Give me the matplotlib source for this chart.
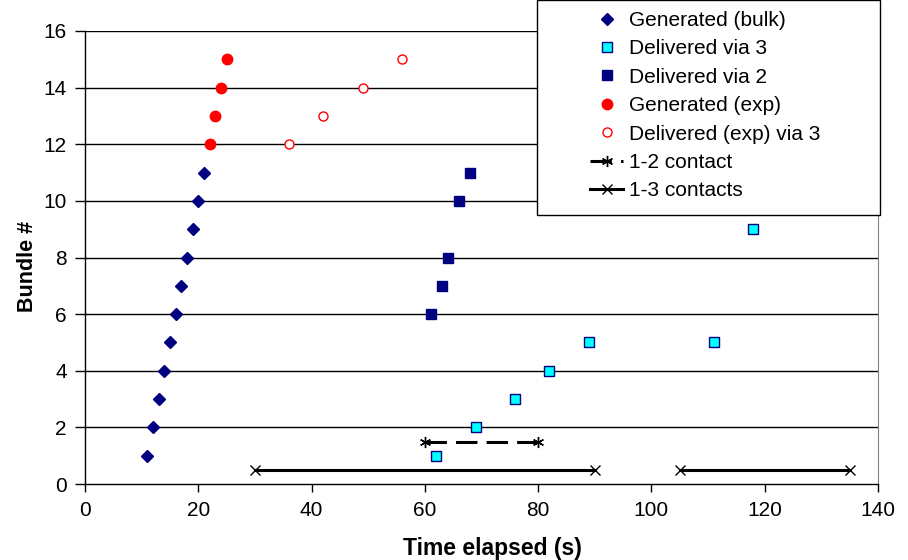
import matplotlib
matplotlib.use("Agg")
import matplotlib.pyplot as plt
from matplotlib.patches import Rectangle

plt.rcParams["font.family"] = ["Liberation Sans", "DejaVu Sans"]

# generated bundles (bulk)
gen_bulk_t = [11, 12, 13, 14, 15, 16, 17, 18, 19, 20, 21]
gen_bulk_b = [1, 2, 3, 4, 5, 6, 7, 8, 9, 10, 11]

# delivered via node 3
via3_t = [62, 69, 76, 82, 89, 111, 118]
via3_b = [1, 2, 3, 4, 5, 5, 9]

# delivered via node 2
via2_t = [61, 63, 64, 66, 68]
via2_b = [6, 7, 8, 10, 11]

# expedited bundles
gen_exp_t = [22, 23, 24, 25]
gen_exp_b = [12, 13, 14, 15]
del_exp_t = [36, 42, 49, 56]
del_exp_b = [12, 13, 14, 15]

# contacts
c12_t = [60, 80]
c12_y = [1.5, 1.5]
c13a_t = [30, 90]
c13b_t = [105, 135]
c13_y = [0.5, 0.5]

W, H = 908, 560
fig = plt.figure(figsize=(W / 100, H / 100), dpi=100)
ax = fig.add_axes([85 / W, 1 - 484 / H, 793 / W, 453 / H])

for y in range(2, 17, 2):
    ax.axhline(y, color="black", lw=1, zorder=1)

ax.plot(gen_bulk_t, gen_bulk_b, "D", color="#000080", ms=6.5, ls="none",
        label="Generated (bulk)", zorder=3)
ax.plot(via3_t, via3_b, "s", mfc="#00FFFF", mec="#000080", mew=1.0, ms=6.5,
        ls="none", label="Delivered via 3", zorder=3)
ax.plot(via2_t, via2_b, "s", color="#000080", ms=6.5, ls="none",
        label="Delivered via 2", zorder=3)
ax.plot(gen_exp_t, gen_exp_b, "o", color="#FF0000", ms=7.5, ls="none",
        label="Generated (exp)", zorder=3)
ax.plot(del_exp_t, del_exp_b, "o", mfc="white", mec="#FF0000", mew=1.0, ms=6.5,
        ls="none", label="Delivered (exp) via 3", zorder=3)
ax.plot(c12_t, c12_y, color="black", lw=2.2, ls=(0, (7, 3)), marker=(6, 2, 0),
        ms=8, mew=1, label="1-2 contact", zorder=3)
ax.plot(c13a_t, c13_y, color="black", lw=2.2, marker="x", ms=7, mew=1,
        label="1-3 contacts", zorder=3)
ax.plot(c13b_t, c13_y, color="black", lw=2.2, marker="x", ms=7, mew=1, zorder=3)

ax.set_xlim(0, 140)
ax.set_ylim(0, 16)
ax.set_xticks(range(0, 141, 20))
ax.set_yticks(range(0, 17, 2))
ax.tick_params(labelsize=15, direction="out", width=1, color="black")
ax.tick_params(axis="x", length=6, pad=6)
ax.tick_params(axis="y", length=7, pad=6)

ax.spines["top"].set_visible(False)
ax.spines["right"].set_color("#808080")
for s in ["left", "bottom"]:
    ax.spines[s].set_color("black")
    ax.spines[s].set_linewidth(1)

ax.set_xlabel("Time elapsed (s)", fontsize=16.5, fontweight="bold")
ax.set_ylabel("Bundle #", fontsize=15.5, fontweight="bold")
ax.xaxis.set_label_coords((492 - 85) / 793, (H - 537 - 76) / 453)
ax.yaxis.set_label_coords((38 - 85) / 793, 0.481)

# legend box sits partly above the plot area
fig.add_artist(Rectangle((537 / W, 1 - 215 / H), 343 / W, 215 / H,
                         transform=fig.transFigure, facecolor="white",
                         edgecolor="black", lw=1, zorder=4))
handles, labels = ax.get_legend_handles_labels()
leg = fig.legend(handles, labels, loc="upper left",
                 bbox_to_anchor=(590 / W, 1 - 11 / H), fontsize=15,
                 frameon=False, labelspacing=0.45, handlelength=1.6,
                 handletextpad=0.25, borderpad=0, borderaxespad=0)
leg.set_zorder(5)

fig.savefig("out.png", dpi=100)
